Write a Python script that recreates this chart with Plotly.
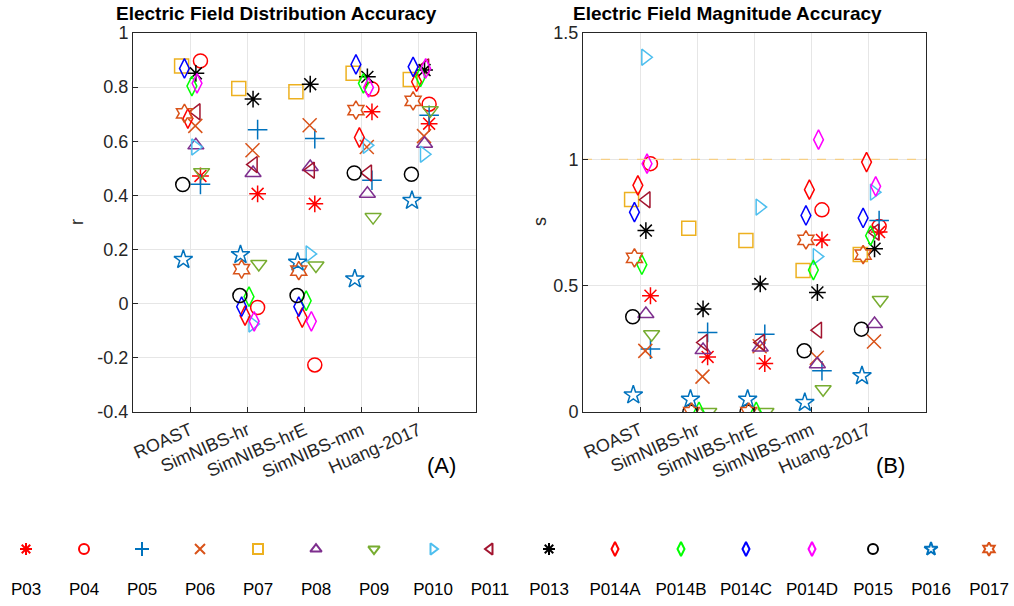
import plotly.graph_objects as go

W, H = 1014, 606

categories = ["ROAST", "SimNIBS-hr", "SimNIBS-hrE", "SimNIBS-mm", "Huang-2017"]
participants = ["P03", "P04", "P05", "P06", "P07", "P08", "P09", "P010", "P011",
                "P013", "P014A", "P014B", "P014C", "P014D", "P015", "P016", "P017"]
symbols = ["asterisk-open", "circle-open", "cross-thin-open", "x-thin-open", "square-open",
           "triangle-up-open", "triangle-down-open", "triangle-right-open", "triangle-left-open",
           "asterisk-open", "diamond-tall-open", "diamond-tall-open", "diamond-tall-open",
           "diamond-tall-open", "circle-open", "star-open", "hexagram-open"]
colors = ["#FF0000", "#FF0000", "#0072BD", "#D95319", "#EDB120", "#7E2F8E", "#77AC30",
          "#4DBEEE", "#A2142F", "#000000", "#FF0000", "#00FF00", "#0000FF", "#FF00FF",
          "#000000", "#0072BD", "#D95319"]
# horizontal jitter per participant (category units)
jitter = [0.18, 0.18, 0.18, 0.09, -0.15, 0.10, 0.20, 0.09, 0.11,
          0.10, -0.04, 0.03, -0.10, 0.12, -0.13, -0.12, -0.10]

# Distribution accuracy r: [ROAST, SimNIBS-hr, SimNIBS-hrE, SimNIBS-mm, Huang-2017]
r_vals = {
    "P03":   [0.472, 0.406, 0.369, 0.709, 0.665],
    "P04":   [0.897, -0.014, -0.226, 0.793, 0.737],
    "P05":   [0.441, 0.643, 0.610, 0.456, 0.696],
    "P06":   [0.657, 0.567, 0.659, 0.579, 0.619],
    "P07":   [0.878, 0.795, 0.783, 0.851, 0.828],
    "P08":   [0.585, 0.483, 0.505, 0.406, 0.591],
    "P09":   [0.486, 0.147, 0.141, 0.320, 0.715],
    "P010":  [0.579, -0.075, 0.184, 0.585, 0.552],
    "P011":  [0.709, 0.514, 0.493, 0.483, 0.875],
    "P013":  [0.851, 0.756, 0.811, 0.838, 0.863],
    "P014A": [0.684, -0.044, -0.051, 0.614, 0.820],
    "P014B": [0.804, 0.026, 0.011, 0.814, 0.838],
    "P014C": [0.869, -0.011, -0.011, 0.884, 0.875],
    "P014D": [0.814, -0.065, -0.065, 0.799, 0.869],
    "P015":  [0.440, 0.030, 0.030, 0.483, 0.478],
    "P016":  [0.163, 0.181, 0.153, 0.091, 0.381],
    "P017":  [0.703, 0.128, 0.122, 0.715, 0.749],
}
# Magnitude accuracy s
s_vals = {
    "P03":   [0.460, 0.218, 0.192, 0.681, 0.712],
    "P04":   [0.983, None, None, 0.800, 0.734],
    "P05":   [0.249, 0.315, 0.308, 0.163, 0.758],
    "P06":   [0.242, 0.140, 0.260, 0.215, 0.279],
    "P07":   [0.841, 0.727, 0.679, 0.560, 0.623],
    "P08":   [0.388, 0.245, 0.255, 0.189, 0.348],
    "P09":   [0.308, 0.0, 0.0, 0.090, 0.443],
    "P010":  [1.404, None, 0.811, 0.615, 0.870],
    "P011":  [0.840, 0.275, 0.275, 0.324, 0.712],
    "P013":  [0.718, 0.408, 0.507, 0.473, 0.646],
    "P014A": [0.897, None, None, 0.880, 0.989],
    "P014B": [0.583, 0.0, 0.0, 0.562, 0.698],
    "P014C": [0.791, None, None, 0.778, 0.768],
    "P014D": [0.983, None, None, 1.078, 0.893],
    "P015":  [0.377, 0.0, 0.0, 0.242, 0.328],
    "P016":  [0.067, 0.050, 0.050, 0.037, 0.143],
    "P017":  [0.610, 0.0, 0.0, 0.681, 0.623],
}
r_ticks = [-0.4, -0.2, 0, 0.2, 0.4, 0.6, 0.8, 1]
r_ticktext = ["-0.4", "-0.2", "0", "0.2", "0.4", "0.6", "0.8", "1"]
s_ticks = [0, 0.5, 1, 1.5]
s_ticktext = ["0", "0.5", "1", "1.5"]
reference_s = 1.0

# legend layout (pixel centres of legend entries)
legend_px = [26, 84, 142, 200, 258, 316, 374, 433, 490, 549, 615, 681, 746, 812, 873, 931, 989]

FONT = "Liberation Sans, Arial, Helvetica, sans-serif"
fig = go.Figure()
xcat = list(range(1, len(categories) + 1))

for i, p in enumerate(participants):
    xs = [c + jitter[i] for c in xcat]
    mk = dict(symbol=symbols[i], size=14, color=colors[i], line=dict(color=colors[i], width=1.5))
    fig.add_trace(go.Scatter(x=xs, y=r_vals[p], mode="markers", marker=mk,
                             xaxis="x", yaxis="y", showlegend=False, cliponaxis=True))
    fig.add_trace(go.Scatter(x=xs, y=s_vals[p], mode="markers", marker=mk,
                             xaxis="x2", yaxis="y2", showlegend=False, cliponaxis=True))
    mk2 = dict(symbol=symbols[i], size=10, color=colors[i], line=dict(color=colors[i], width=2))
    fig.add_trace(go.Scatter(x=[legend_px[i]], y=[0.626], mode="markers", marker=mk2,
                             xaxis="x3", yaxis="y3", showlegend=False, cliponaxis=False))
    fig.add_trace(go.Scatter(x=[legend_px[i]], y=[0.165], mode="text", text=[p],
                             textfont=dict(family=FONT, size=17, color="#000000"),
                             xaxis="x3", yaxis="y3", showlegend=False, cliponaxis=False))

# reference line at s = 1
fig.add_trace(go.Scatter(x=[0, len(categories) + 1], y=[reference_s, reference_s], mode="lines",
                         line=dict(color="#F6CF86", width=1.2, dash="dash"),
                         xaxis="x2", yaxis="y2", showlegend=False))

axis_common = dict(showline=True, linecolor="#262626", linewidth=1, mirror=True,
                   ticks="inside", ticklen=5, tickcolor="#262626", automargin=False,
                   showgrid=True, gridcolor="#E6E6E6", gridwidth=1, zeroline=False,
                   tickfont=dict(family=FONT, size=18, color="#262626"))

ydom = [1 - 412 / H, 1 - 33 / H]
fig.update_layout(
    template="none",
    width=W, height=H, margin=dict(l=0, r=0, t=0, b=0, pad=0, autoexpand=False),
    paper_bgcolor="white", plot_bgcolor="white", showlegend=False,
    xaxis=dict(domain=[133 / W, 476 / W], range=[0, 6], tickvals=xcat, ticktext=categories,
               tickangle=-24, anchor="y", **axis_common),
    yaxis=dict(domain=ydom, range=[-0.4, 1], tickvals=r_ticks, ticktext=r_ticktext,
               anchor="x", **axis_common),
    xaxis2=dict(domain=[583 / W, 926 / W], range=[0, 6], tickvals=xcat, ticktext=categories,
                tickangle=-24, anchor="y2", **axis_common),
    yaxis2=dict(domain=ydom, range=[0, 1.5], tickvals=s_ticks, ticktext=s_ticktext,
                anchor="x2", **axis_common),
    xaxis3=dict(domain=[0, 1], range=[0, W], visible=False, anchor="y3", automargin=False),
    yaxis3=dict(domain=[0, 91 / H], range=[0, 1], visible=False, anchor="x3", automargin=False),
)

ann = [
    dict(text="<b>Electric Field Distribution Accuracy</b>", x=276 / W, y=1 - 14 / H),
    dict(text="<b>Electric Field Magnitude Accuracy</b>", x=727 / W, y=1 - 14 / H),
]
for a in ann:
    fig.add_annotation(xref="paper", yref="paper", xanchor="center", yanchor="middle",
                       showarrow=False, font=dict(family=FONT, size=19, color="#000000"), **a)
for txt, x in [("r", 77), ("s", 540)]:
    fig.add_annotation(text=txt, xref="paper", yref="paper", x=x / W, y=1 - 222 / H,
                       textangle=-90, showarrow=False, xanchor="center", yanchor="middle",
                       font=dict(family=FONT, size=18, color="#262626"))
for txt, x in [("(A)", 441), ("(B)", 890)]:
    fig.add_annotation(text=txt, xref="paper", yref="paper", x=x / W, y=1 - 465 / H,
                       showarrow=False, xanchor="center", yanchor="middle",
                       font=dict(family=FONT, size=22, color="#000000"))

fig.write_html("out.html")
